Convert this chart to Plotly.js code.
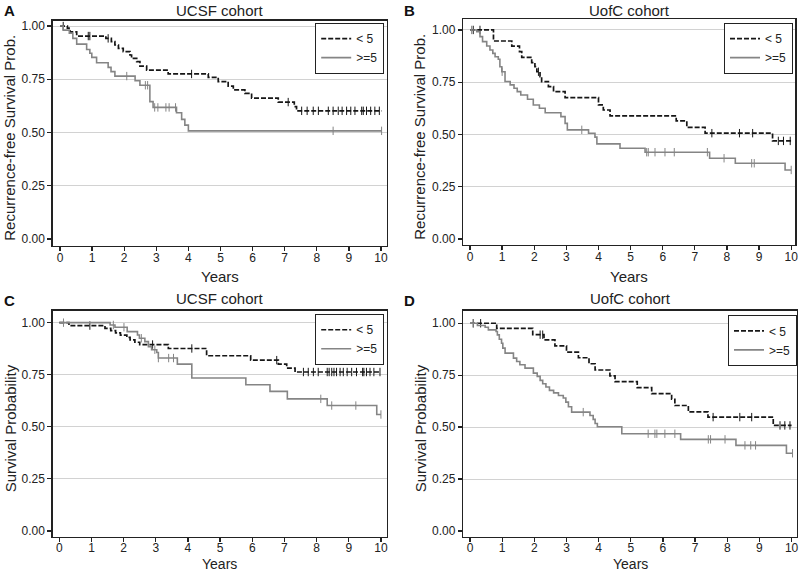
<!DOCTYPE html>
<html>
<head>
<meta charset="utf-8">
<script src="https://cdn.plot.ly/plotly-3.0.1.min.js"></script>
<style>html,body{margin:0;padding:0;background:#fff;}#chart{width:800px;height:572px;}</style>
</head>
<body>
<div id="chart"></div>
<script>
// ---------- data ----------
const groupNames = ['&lt; 5', '&gt;=5'];
const panelLetters = ['A', 'B', 'C', 'D'];
const panelTitles = ['UCSF cohort', 'UofC cohort', 'UCSF cohort', 'UofC cohort'];
const yTitles = ['Recurrence-free Survival Prob.', 'Recurrence-free Survival Prob.', 'Survival Probability', 'Survival Probability'];
const xTitle = 'Years';
const xTicks = [0, 1, 2, 3, 4, 5, 6, 7, 8, 9, 10];
const yTicks = [0, 0.25, 0.5, 0.75, 1.0];
const yTickText = ['0.00', '0.25', '0.50', '0.75', '1.00'];

// Panel A: UCSF recurrence-free
const aLowT = [0, 0.23, 0.31, 0.52, 1.43, 1.6, 1.71, 1.82, 1.97, 2.18, 2.23, 2.39, 2.49, 2.7, 3.37, 4.62, 4.93, 5.24, 5.4, 5.76, 5.97, 6.8, 7.3, 7.37, 10.02];
const aLowS = [1.0, 0.99, 0.973, 0.953, 0.942, 0.927, 0.911, 0.895, 0.88, 0.864, 0.848, 0.833, 0.812, 0.793, 0.775, 0.759, 0.739, 0.718, 0.70, 0.684, 0.662, 0.643, 0.622, 0.602, 0.602];
const aLowC = [0.1, 0.88, 0.93, 1.5, 4.1, 7.11, 7.53, 7.70, 7.89, 8.05, 8.36, 8.51, 8.67, 8.79, 8.93, 9.06, 9.19, 9.4, 9.45, 9.55, 9.68, 9.81, 9.95];
const aHighT = [0, 0.1, 0.29, 0.4, 0.52, 0.83, 0.93, 0.99, 1.14, 1.5, 1.59, 1.71, 2.34, 2.49, 2.8, 2.9, 3.63, 3.79, 3.89, 4.0, 10.02];
const aHighS = [1.0, 0.981, 0.966, 0.942, 0.915, 0.89, 0.872, 0.853, 0.828, 0.806, 0.786, 0.765, 0.743, 0.722, 0.645, 0.618, 0.593, 0.562, 0.535, 0.508, 0.508];
const aHighC = [2.08, 2.66, 2.73, 2.95, 3.05, 3.3, 3.4, 3.6, 8.51, 10.02];

// Panel B: UofC recurrence-free
const bLowT = [0, 0.73, 1.3, 1.54, 1.61, 1.92, 2.02, 2.08, 2.18, 2.23, 2.44, 2.6, 2.96, 4.0, 4.15, 4.36, 6.42, 6.75, 7.32, 9.42, 10.0];
const bLowS = [1.0, 0.947, 0.923, 0.896, 0.869, 0.844, 0.824, 0.80, 0.777, 0.753, 0.729, 0.705, 0.676, 0.641, 0.617, 0.589, 0.565, 0.534, 0.506, 0.469, 0.469];
const bLowC = [0.1, 0.31, 2.13, 7.53, 8.39, 8.8, 9.6, 9.76, 9.97];
const bHighT = [0, 0.21, 0.31, 0.39, 0.52, 0.62, 0.71, 0.78, 0.88, 0.93, 0.99, 1.09, 1.25, 1.37, 1.47, 1.58, 1.79, 1.97, 2.16, 2.34, 2.83, 2.96, 3.03, 3.69, 3.89, 3.95, 4.67, 5.45, 7.46, 8.26, 9.81, 10.0];
const bHighS = [1.0, 0.992, 0.968, 0.944, 0.923, 0.904, 0.888, 0.872, 0.86, 0.824, 0.80, 0.753, 0.737, 0.721, 0.705, 0.689, 0.668, 0.641, 0.625, 0.604, 0.585, 0.553, 0.522, 0.506, 0.487, 0.455, 0.434, 0.415, 0.386, 0.362, 0.33, 0.33];
const bHighC = [0.05, 1.0, 3.48, 5.5, 5.55, 5.76, 6.07, 6.36, 7.39, 7.91, 8.77, 8.85, 10.0];

// Panel C: UCSF overall survival
const cLowT = [0, 0.3, 1.42, 1.6, 1.75, 1.9, 2.1, 2.2, 2.35, 2.5, 3.39, 4.58, 5.95, 6.81, 7.07, 7.33, 10.0];
const cLowS = [1.0, 0.986, 0.973, 0.962, 0.951, 0.94, 0.929, 0.917, 0.906, 0.895, 0.876, 0.841, 0.82, 0.801, 0.782, 0.763, 0.763];
const cLowC = [0.95, 2.9, 4.12, 6.76, 7.59, 7.74, 7.9, 8.05, 8.33, 8.39, 8.47, 8.54, 8.62, 8.73, 8.83, 8.95, 9.09, 9.24, 9.43, 9.47, 9.55, 9.66, 9.78, 9.97];
const cHighT = [0, 1.58, 1.73, 2.11, 2.43, 2.49, 2.66, 2.77, 2.87, 3.03, 3.08, 3.67, 4.12, 5.8, 6.55, 7.09, 8.33, 9.87, 10.0];
const cHighS = [1.0, 0.989, 0.978, 0.957, 0.941, 0.925, 0.909, 0.885, 0.87, 0.857, 0.83, 0.801, 0.734, 0.702, 0.67, 0.634, 0.602, 0.559, 0.559];
const cHighC = [0.13, 1.68, 2.01, 2.55, 2.97, 3.08, 3.4, 3.55, 8.13, 8.47, 9.22, 10.0];

// Panel D: UofC overall survival
const dLowT = [0, 0.83, 1.95, 2.3, 2.64, 3.0, 3.37, 3.7, 3.89, 4.35, 4.51, 5.2, 5.65, 6.27, 6.37, 6.79, 7.4, 9.43, 10.0];
const dLowS = [1.0, 0.975, 0.945, 0.92, 0.891, 0.861, 0.834, 0.805, 0.775, 0.747, 0.719, 0.69, 0.661, 0.634, 0.604, 0.573, 0.548, 0.508, 0.508];
const dLowC = [0.1, 0.33, 2.18, 2.26, 7.56, 8.39, 8.76, 9.64, 9.79, 9.95];
const dHighT = [0, 0.23, 0.47, 0.57, 0.81, 0.85, 0.91, 0.98, 1.02, 1.09, 1.35, 1.45, 1.55, 1.71, 1.97, 2.09, 2.18, 2.26, 2.36, 2.47, 2.6, 2.75, 2.9, 2.98, 3.06, 3.16, 3.73, 3.83, 3.89, 3.96, 4.72, 6.55, 8.27, 9.84, 10.03];
const dHighS = [1.0, 0.989, 0.981, 0.968, 0.96, 0.944, 0.923, 0.904, 0.88, 0.856, 0.832, 0.816, 0.8, 0.784, 0.76, 0.744, 0.725, 0.709, 0.693, 0.677, 0.665, 0.652, 0.64, 0.62, 0.598, 0.572, 0.556, 0.537, 0.517, 0.502, 0.468, 0.441, 0.412, 0.374, 0.374];
const dHighC = [0.1, 3.52, 5.54, 5.75, 5.81, 6.06, 6.37, 7.41, 7.48, 7.93, 8.55, 8.73, 8.88, 10.03];

// ---------- build ----------
const FONT = 'Arial, "Liberation Sans", sans-serif';
const panels = [
  {low: [aLowT, aLowS, aLowC], high: [aHighT, aHighS, aHighC], xd: [0.0659, 0.4834], yd: [0.5705, 0.9638], xr: [-0.227, 10.18], yr: [-0.031, 1.025], leg: [0.480, 0.960], xtY: 276, ytX: 10},
  {low: [bLowT, bLowS, bLowC], high: [bHighT, bHighS, bHighC], xd: [0.5791, 0.9938], yd: [0.5717, 0.9663], xr: [-0.21, 10.12], yr: [-0.029, 1.051], leg: [0.991, 0.960], xtY: 276, ytX: 420},
  {low: [cLowT, cLowS, cLowC], high: [cHighT, cHighS, cHighC], xd: [0.0659, 0.4834], yd: [0.062, 0.4563], xr: [-0.205, 10.18], yr: [-0.027, 1.056], leg: [0.480, 0.451], xtY: 564, ytX: 10},
  {low: [dLowT, dLowS, dLowC], high: [dHighT, dHighS, dHighC], xd: [0.5791, 0.9959], yd: [0.062, 0.4563], xr: [-0.21, 10.16], yr: [-0.027, 1.059], leg: [0.996, 0.449], xtY: 564, ytX: 420}
];

function stepAt(t, s, x) {
  let v = s[0];
  for (let i = 0; i < t.length; i++) { if (t[i] <= x) v = s[i]; }
  return v;
}

const styles = [
  {color: '#161616', width: 1.7, dash: '5px,2px'},
  {color: '#858585', width: 1.6, dash: 'solid'}
];

const data = [];
const layout = {
  width: 800, height: 572,
  margin: {l: 0, r: 0, t: 0, b: 0},
  paper_bgcolor: '#ffffff', plot_bgcolor: '#ffffff',
  font: {family: FONT, color: '#222', size: 12},
  annotations: [], showlegend: true
};

panels.forEach((p, i) => {
  const n = i === 0 ? '' : String(i + 1);
  const xa = 'x' + n, ya = 'y' + n;
  const legName = 'legend' + n;
  [p.low, p.high].forEach((g, gi) => {
    const st = styles[gi];
    data.push({
      type: 'scatter', mode: 'lines', x: g[0], y: g[1], xaxis: xa, yaxis: ya,
      line: {shape: 'hv', color: st.color, width: st.width, dash: st.dash},
      name: groupNames[gi], legend: legName, showlegend: true, hoverinfo: 'skip'
    });
    data.push({
      type: 'scatter', mode: 'markers', x: g[2], y: g[2].map(c => stepAt(g[0], g[1], c)), xaxis: xa, yaxis: ya,
      marker: {symbol: 'line-ns', size: 6, line: {color: st.color, width: 1}},
      showlegend: false, hoverinfo: 'skip'
    });
  });
  layout['xaxis' + n] = {
    domain: p.xd, range: p.xr, anchor: ya, tickvals: xTicks,
    ticks: 'outside', ticklen: 4, tickwidth: 1.3, tickcolor: '#222',
    ticklabelstandoff: -4,
    showline: true, mirror: true, linecolor: '#222', linewidth: 1.5,
    showgrid: false, zeroline: false, fixedrange: true,
    tickfont: {size: 12, family: FONT, color: '#222'}
  };
  layout['yaxis' + n] = {
    domain: p.yd, range: p.yr, anchor: xa, tickvals: yTicks, ticktext: yTickText,
    ticks: 'outside', ticklen: 4, tickwidth: 1.3, tickcolor: '#222',
    showline: true, mirror: true, linecolor: '#222', linewidth: 1.5,
    showgrid: true, gridcolor: '#d2d2d2', gridwidth: 1,
    zeroline: true, zerolinecolor: '#ffffff', zerolinewidth: 1, fixedrange: true,
    tickfont: {size: 12, family: FONT, color: '#222'}
  };
  layout[legName] = {
    x: p.leg[0], y: p.leg[1], xanchor: 'right', yanchor: 'top',
    bgcolor: '#ffffff', bordercolor: '#222', borderwidth: 1.2,
    font: {size: 12, family: FONT, color: '#222'},
    tracegroupgap: 0, itemwidth: 30
  };
  const xc = (p.xd[0] + p.xd[1]) / 2;
  const yc = (p.yd[0] + p.yd[1]) / 2;
  // x-axis title
  layout.annotations.push({
    xref: 'paper', yref: 'paper', x: xc, y: 1 - p.xtY / 572, xanchor: 'center', yanchor: 'middle',
    text: xTitle, showarrow: false, font: {size: i < 2 ? 15 : 14, family: FONT, color: '#222'}
  });
  // y-axis title
  layout.annotations.push({
    xref: 'paper', yref: 'paper', x: p.ytX / 800, y: yc - 0.008, xanchor: 'center', yanchor: 'middle',
    text: yTitles[i], textangle: -90, showarrow: false, font: {size: 15, family: FONT, color: '#222'}
  });
  // panel title
  const ytop = i < 2 ? 1 - 10 / 572 : 1 - 298 / 572;
  layout.annotations.push({
    xref: 'paper', yref: 'paper', x: xc, y: ytop, xanchor: 'center', yanchor: 'middle',
    text: panelTitles[i], showarrow: false, font: {size: 15, family: FONT, color: '#222'}
  });
  // panel letter
  layout.annotations.push({
    xref: 'paper', yref: 'paper', x: (i % 2 === 0 ? 2 : 402) / 800, y: (i < 2 ? 1 - 10 / 572 : 1 - 300 / 572),
    xanchor: 'left', yanchor: 'middle',
    text: '<b>' + panelLetters[i] + '</b>', showarrow: false, font: {size: 15, family: FONT, color: '#111'}
  });
});

Plotly.newPlot('chart', data, layout, {displayModeBar: false, staticPlot: true});
</script>
</body>
</html>
